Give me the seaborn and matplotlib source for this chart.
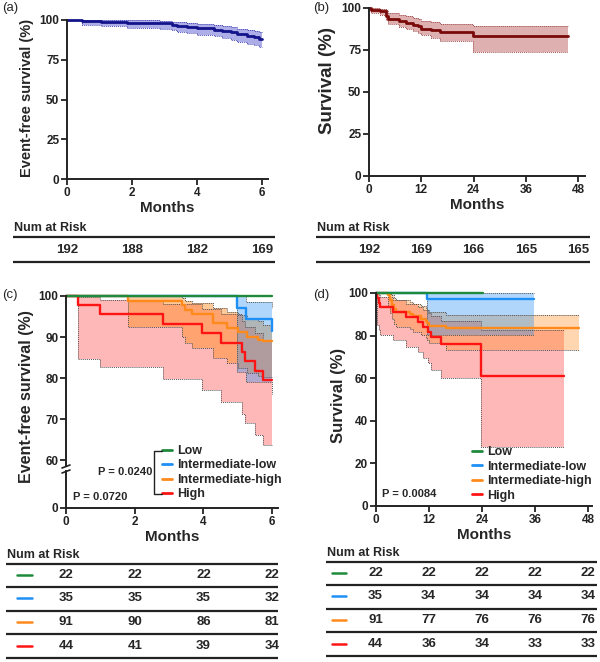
import matplotlib
matplotlib.use("Agg")
import matplotlib.pyplot as plt
import seaborn as sns
from matplotlib.lines import Line2D

# ---- (a) event-free survival, whole cohort (months) ----
a_time = [0, 0.46, 1.03, 1.85, 2.87, 3.23, 3.38, 3.69, 4.0, 4.51, 4.77, 5.03, 5.23, 5.54, 5.74, 5.9]
a_surv = [100, 99.5, 99.0, 98.4, 97.9, 97.1, 96.4, 95.6, 94.9, 94.0, 93.2, 92.2, 91.1, 90.1, 89.1, 88.3]
a_lo = [100, 96.9, 96.0, 95.2, 94.4, 93.4, 92.5, 91.6, 90.8, 89.7, 88.7, 87.5, 86.3, 85.1, 84.0, 83.2]
a_hi = [100, 100, 99.9, 99.7, 99.4, 98.9, 98.5, 98.0, 97.5, 96.9, 96.2, 95.5, 94.6, 93.8, 93.0, 92.4]
a_end = 6.0
a_risk_t = [0, 2, 4, 6]
a_risk = [192, 188, 182, 169]

# ---- (b) overall survival, whole cohort ----
b_time = [0, 0.5, 2.5, 3.8, 4.4, 7.0, 8.6, 10.1, 11.3, 12.0, 14.3, 16.2, 23.9]
b_surv = [100, 99.0, 98.0, 95.5, 93.2, 92.0, 91.0, 90.0, 89.0, 87.6, 86.7, 85.7, 83.1]
b_lo = [100, 97.0, 95.9, 92.8, 90.2, 88.6, 87.4, 86.1, 85.0, 83.9, 82.1, 80.5, 74.1]
b_hi = [100, 100, 99.7, 98.6, 97.0, 96.0, 95.0, 94.2, 93.4, 92.3, 91.4, 90.6, 89.4]
b_end = 45.7
b_risk_t = [0, 12, 24, 36, 48]
b_risk = [192, 169, 166, 165, 165]

groups = ["Low", "Intermediate-low", "Intermediate-high", "High"]
group_colors = ["#1f8a3c", "#1e8ff5", "#ff8a1c", "#ff1414"]

# ---- (c) event-free survival by risk group ----
c_low_time, c_low_surv, c_low_end = [0], [100], 6.0
c_il_time = [0, 4.99, 5.24, 6.0]
c_il_surv = [100, 97.1, 94.3, 91.4]
c_il_lo = [100, 81.5, 79.0, 76.0]
c_il_hi = [100, 100, 98.5, 97.0]
c_il_end = 6.0
c_ih_time = [0, 1.81, 3.37, 3.47, 3.66, 4.29, 4.69, 5.02, 5.27, 5.6, 5.74]
c_ih_surv = [100, 98.9, 97.8, 96.7, 95.6, 93.4, 92.3, 91.2, 90.1, 89.3, 89.0]
c_ih_lo = [100, 92.4, 90.0, 88.6, 87.3, 85.0, 83.7, 82.5, 81.2, 80.5, 80.2]
c_ih_hi = [100, 100, 99.5, 98.8, 98.2, 97.0, 96.2, 95.4, 94.5, 93.8, 93.0]
c_ih_end = 6.0
c_hi_time = [0, 0.36, 0.99, 2.83, 3.96, 4.52, 5.12, 5.22, 5.51, 5.74]
c_hi_surv = [100, 97.7, 95.5, 93.2, 90.9, 88.6, 86.4, 84.1, 81.8, 79.5]
c_hi_lo = [100, 84.6, 82.7, 79.8, 77.1, 74.1, 71.2, 69.0, 66.1, 63.7]
c_hi_hi = [100, 99.7, 99.0, 98.0, 96.8, 95.5, 94.0, 92.5, 91.0, 89.3]
c_hi_end = 6.0
c_risk_t = [0, 2, 4, 6]
c_risk = [[22, 22, 22, 22], [35, 35, 35, 32], [91, 90, 86, 81], [44, 41, 39, 34]]

# ---- (d) overall survival by risk group ----
d_low_time, d_low_surv, d_low_end = [0], [100], 24.3
d_il_time = [0, 11.7]
d_il_surv = [100, 97.1]
d_il_lo = [100, 80.3]
d_il_hi = [100, 100]
d_il_end = 35.9
d_ih_time = [0, 2.9, 3.3, 3.7, 4.2, 4.6, 7.8, 8.5, 10.2, 11.3, 11.7, 12.0, 16.0]
d_ih_surv = [100, 98.9, 96.7, 94.5, 92.3, 91.2, 90.1, 89.0, 87.9, 86.8, 85.7, 84.6, 83.5]
d_ih_lo = [100, 94.0, 90.5, 88.0, 85.5, 84.2, 82.9, 81.6, 80.3, 79.0, 77.7, 76.4, 73.2]
d_ih_hi = [100, 100, 99.7, 98.9, 97.8, 96.9, 96.0, 95.0, 94.0, 93.0, 92.0, 91.0, 89.7]
d_ih_end = 46.0
d_hi_time = [0, 0.3, 0.7, 1.0, 4.0, 7.0, 9.6, 10.8, 11.8, 12.6, 14.9, 23.9]
d_hi_surv = [100, 97.7, 95.5, 93.2, 90.9, 88.6, 86.4, 84.1, 81.8, 79.5, 76.2, 60.9]
d_hi_lo = [100, 85.0, 82.5, 80.5, 77.9, 74.8, 72.4, 69.3, 67.0, 63.8, 59.9, 27.9]
d_hi_hi = [100, 99.7, 99.0, 98.0, 96.5, 95.0, 93.5, 92.0, 90.5, 89.0, 87.0, 82.5]
d_hi_end = 42.5
d_risk_t = [0, 12, 24, 36, 48]
d_risk = [[22, 22, 22, 22, 22], [35, 34, 34, 34, 34], [91, 77, 76, 76, 76], [44, 36, 34, 33, 33]]

W, H = 600, 662
INK = "#222222"

sns.set_theme(style="ticks")
plt.rcParams["font.family"] = ["Liberation Sans", "DejaVu Sans"]
plt.rcParams["font.weight"] = "bold"
plt.rcParams["axes.labelweight"] = "bold"

fig = plt.figure(figsize=(W / 100, H / 100), dpi=100)


def box(left, top, right, bottom):
    return [left / W, 1 - bottom / H, (right - left) / W, (bottom - top) / H]


def fx(x):
    return x / W


def fy(y):
    return 1 - y / H


def km(ax, time, surv, end, color, lw=1.6, lo=None, hi=None, band=None, alpha=0.35, edge="#555555"):
    xs = list(time) + [end]
    ys = list(surv) + [surv[-1]]
    if lo is not None:
        los = list(lo) + [lo[-1]]
        his = list(hi) + [hi[-1]]
        ax.fill_between(xs, los, his, step="post", color=band, alpha=alpha, lw=0)
        for e in (los, his):
            ax.plot(xs, e, drawstyle="steps-post", color=edge, lw=0.7, ls=(0, (1, 1)), clip_on=False)
    sns.lineplot(x=xs, y=ys, drawstyle="steps-post", color=color, lw=lw, ax=ax,
                 estimator=None, sort=False, clip_on=False)


def bands(ax, curves, colors, alphas):
    # confidence bands drawn back to front, with grey dotted edges
    for (t, s, e, lo, hi), col, a in zip(curves, colors, alphas):
        xs = list(t) + [e]
        ax.fill_between(xs, list(lo) + [lo[-1]], list(hi) + [hi[-1]], step="post", color=col, alpha=a, lw=0)
        for edge in (lo, hi):
            ax.plot(xs, list(edge) + [edge[-1]], drawstyle="steps-post", color="#555555",
                    lw=0.7, ls=(0, (1, 1)))


def style(ax, xticks=None, yticks=None, bottom=True):
    sns.despine(ax=ax)
    for s in ("left", "bottom"):
        ax.spines[s].set_linewidth(1.4)
        ax.spines[s].set_color(INK)
    ax.tick_params(length=4, width=1.3, pad=1.5, labelsize=8.5, colors=INK)
    if xticks is not None:
        ax.set_xticks(xticks)
    if yticks is not None:
        ax.set_yticks(yticks)
    if not bottom:
        ax.spines["bottom"].set_visible(False)
        ax.tick_params(axis="x", bottom=False, labelbottom=False)
    for lab in ax.get_xticklabels() + ax.get_yticklabels():
        lab.set_fontweight("bold")
    ax.set_xlabel("")
    ax.set_ylabel("")


def risk_table(main_left, k, left, right, header_y, lines_y, rows_y, times, counts, colors=None, dash=None):
    ax = fig.add_axes(box(left, lines_y[0] - 20, right, lines_y[-1] + 2))
    ax.set_xlim((left - main_left) * k, (right - main_left) * k)
    ax.set_ylim(lines_y[-1] + 2, lines_y[0] - 20)
    ax.axis("off")
    ax.text((left + 1 - main_left) * k, header_y, "Num at Risk", ha="left", va="center",
            fontsize=9, fontweight="bold")
    for y in lines_y:
        ax.axhline(y, color=INK, lw=1.6)
    for i, (row, y) in enumerate(zip(counts, rows_y)):
        for t, n in zip(times, row):
            ax.text(t, y, str(n), ha="center", va="center", fontsize=9.5, fontweight="bold")
        if colors is not None:
            ax.plot([(dash[0] - main_left) * k, (dash[1] - main_left) * k], [y, y], color=colors[i], lw=1.8)


def months(ax):
    ax.set_xlabel("Months", fontsize=11, fontweight="bold", labelpad=2)


def legend(ax, handles, x, y):
    ax.legend(handles, groups, loc="upper left", bbox_to_anchor=(fx(x), fy(y)), bbox_transform=fig.transFigure,
              frameon=False, prop={"size": 9, "weight": "bold"}, handlelength=0.8, handletextpad=0.45,
              labelspacing=0.2, borderpad=0, borderaxespad=0)


# ---------------- panel (a) ----------------
ax_a = fig.add_axes(box(67, 20, 268, 179))
km(ax_a, a_time, a_surv, a_end, "#14148a", lw=2.0, lo=a_lo, hi=a_hi, band="#6b6bd6", alpha=0.55, edge="#4a4ab8")
ax_a.set_xlim(0, 6.18)
ax_a.set_ylim(0, 100)
style(ax_a, [0, 2, 4, 6], [0, 25, 50, 75, 100])
months(ax_a)
fig.text(fx(27), fy(98), "Event-free survival (%)", rotation=90, ha="center", va="center",
         fontsize=10.5, fontweight="bold")
fig.text(fx(2), fy(8), "(a)", ha="left", va="center", fontsize=9.5, fontweight="normal")
risk_table(67, 6.18 / 201, 13, 275, 228, [237, 262], [250], a_risk_t, [a_risk])

# ---------------- panel (b) ----------------
ax_b = fig.add_axes(box(369, 8, 585, 176))
km(ax_b, b_time, b_surv, b_end, "#7a0a0a", lw=2.0, lo=b_lo, hi=b_hi, band="#b85050", alpha=0.45, edge="#a05050")
ax_b.set_xlim(0, 49.6)
ax_b.set_ylim(0, 100)
style(ax_b, [0, 12, 24, 36, 48], [0, 25, 50, 75, 100])
months(ax_b)
fig.text(fx(328), fy(80), "Survival (%)", rotation=90, ha="center", va="center", fontsize=13.5, fontweight="bold")
fig.text(fx(313), fy(8), "(b)", ha="left", va="center", fontsize=9.5, fontweight="normal")
risk_table(369, 49.6 / 216, 316, 590, 228, [237, 262], [250], b_risk_t, [b_risk])

handles = [Line2D([], [], color=c, lw=2) for c in group_colors]

# ---------------- panel (c) : broken y axis ----------------
ax_c = fig.add_axes(box(66, 296, 278, 466))
ax_c0 = fig.add_axes(box(66, 471, 278, 508), sharex=ax_c)
c_curves = [
    (c_il_time, c_il_surv, c_il_end, c_il_lo, c_il_hi),
    (c_ih_time, c_ih_surv, c_ih_end, c_ih_lo, c_ih_hi),
    (c_hi_time, c_hi_surv, c_hi_end, c_hi_lo, c_hi_hi),
]
bands(ax_c, c_curves[::-1], group_colors[1:][::-1], [0.3, 0.45, 0.35])
for (t, s, e, lo, hi), col in zip(c_curves, group_colors[1:]):
    km(ax_c, t, s, e, col, lw=1.7)
km(ax_c, c_low_time, c_low_surv, c_low_end, group_colors[0], lw=1.7)
ax_c.set_ylim(58.54, 100)
ax_c.set_xlim(0, 6.17)
style(ax_c, None, [60, 70, 80, 90, 100], bottom=False)
ax_c0.set_ylim(0, 9)
style(ax_c0, [0, 2, 4, 6], [0])
months(ax_c0)
for y0 in (466, 471):
    fig.add_artist(Line2D([fx(62), fx(70)], [fy(y0 + 2), fy(y0 - 1)], color=INK, lw=1.2))
fig.text(fx(27), fy(397), "Event-free survival (%)", rotation=90, ha="center", va="center",
         fontsize=11.5, fontweight="bold")
fig.text(fx(2), fy(295), "(c)", ha="left", va="center", fontsize=9.5, fontweight="normal")
fig.text(fx(73), fy(497), "P = 0.0720", ha="left", va="center", fontsize=8, fontweight="bold")
fig.text(fx(152), fy(472), "P = 0.0240", ha="right", va="center", fontsize=8, fontweight="bold")
fig.add_artist(Line2D([fx(162), fx(154), fx(154), fx(162)], [fy(451), fy(451), fy(494), fy(494)],
                      color=INK, lw=1))
legend(ax_c0, handles, 162, 445)
risk_table(66, 6.17 / 212, 6, 278, 555, [564, 587, 611, 634, 658], [575, 598, 622, 646],
           c_risk_t, c_risk, group_colors, (17, 32))

# ---------------- panel (d) ----------------
ax_d = fig.add_axes(box(375.5, 293, 592, 506))
d_curves = [
    (d_il_time, d_il_surv, d_il_end, d_il_lo, d_il_hi),
    (d_ih_time, d_ih_surv, d_ih_end, d_ih_lo, d_ih_hi),
    (d_hi_time, d_hi_surv, d_hi_end, d_hi_lo, d_hi_hi),
]
bands(ax_d, d_curves[::-1], group_colors[1:][::-1], [0.3, 0.35, 0.35])
for (t, s, e, lo, hi), col in zip(d_curves, group_colors[1:]):
    km(ax_d, t, s, e, col, lw=1.7)
km(ax_d, d_low_time, d_low_surv, d_low_end, group_colors[0], lw=1.7)
ax_d.set_xlim(0, 48.9)
ax_d.set_ylim(0, 100)
style(ax_d, [0, 12, 24, 36, 48], [0, 20, 40, 60, 80, 100])
months(ax_d)
fig.text(fx(338), fy(395), "Survival (%)", rotation=90, ha="center", va="center", fontsize=12, fontweight="bold")
fig.text(fx(313), fy(295), "(d)", ha="left", va="center", fontsize=9.5, fontweight="normal")
fig.text(fx(382), fy(494), "P = 0.0084", ha="left", va="center", fontsize=8, fontweight="bold")
legend(ax_d, handles, 472, 446)
risk_table(375.5, 48.9 / 216.5, 326, 597, 553, [562, 585, 609, 632, 656], [573, 596, 620, 644],
           d_risk_t, d_risk, group_colors, (332, 346))

fig.savefig("out.png", dpi=100)
